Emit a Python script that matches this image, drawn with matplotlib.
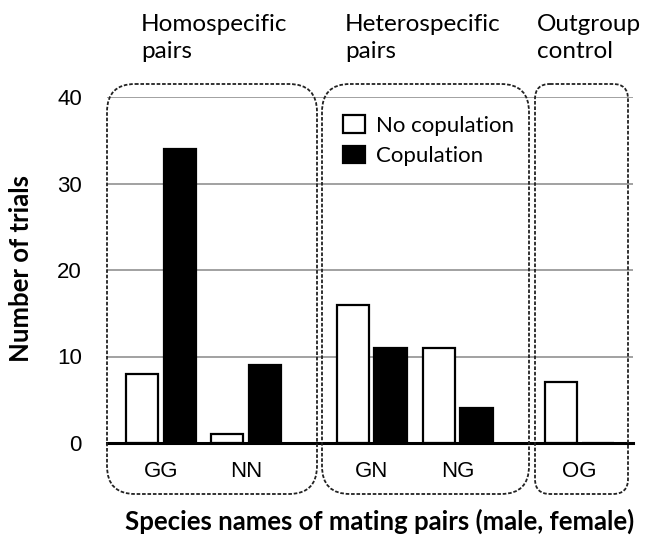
import matplotlib
matplotlib.use("Agg")
import matplotlib.pyplot as plt
from matplotlib.patches import FancyBboxPatch
import numpy as np

# ---- data ----
categories = ["GG", "NN", "GN", "NG", "OG"]
no_copulation = [8, 1, 16, 11, 7]
copulation = [34, 9, 11, 4, 0]
series_names = ["No copulation", "Copulation"]
group_titles = ["Homospecific\npairs", "Heterospecific\npairs", "Outgroup\ncontrol"]
yticks = [0, 10, 20, 30, 40]

# ---- layout ----
positions = np.array([0.0, 1.0, 2.48, 3.49, 4.92])
bw = 0.38
off = 0.22

fig = plt.figure(figsize=(6.49, 5.41), dpi=100)
ax = fig.add_axes([107/649, 1-443/541, (633-107)/649, (443-97)/541])

ax.bar(positions - off, no_copulation, bw, color="white", edgecolor="black",
       linewidth=1.6, label=series_names[0], zorder=3)
ax.bar(positions + off, copulation, bw, color="black", edgecolor="black",
       linewidth=1.6, label=series_names[1], zorder=3)

ax.set_xlim(-0.635, 5.55)
ax.set_ylim(0, 40)
ax.set_yticks(yticks)
ax.set_yticklabels([str(t) for t in yticks], family="Liberation Sans", fontsize=16)
ax.set_xticks(positions)
ax.set_xticklabels(categories, family="Liberation Sans", fontsize=16)
ax.tick_params(axis="y", length=0, pad=18)
ax.tick_params(axis="x", length=0, pad=13)
ax.yaxis.grid(True, color="#9a9a9a", linewidth=1.3, zorder=0)
ax.set_axisbelow(True)
for s in ["top", "right", "left"]:
    ax.spines[s].set_visible(False)
ax.spines["bottom"].set_linewidth(2.2)
ax.spines["bottom"].set_zorder(4)

ax.legend(loc="upper left", bbox_to_anchor=((343-107)/526, 1-(115-97)/346),
          frameon=False, prop={"family": "Lato", "size": 16},
          handlelength=1.0, handleheight=0.85, handletextpad=0.5,
          labelspacing=0.45, borderaxespad=0, borderpad=0)

# axis labels
fig.text(21/649, 1-268/541, "Number of trials", rotation=90, ha="center",
         va="center", family="Lato", fontweight="bold", fontsize=18.5)
fig.text(380/649, 1-521/541, "Species names of mating pairs (male, female)",
         ha="center", va="center", family="Lato", fontweight="bold", fontsize=18.5)

# overlay in pixel coordinates for group boxes and titles
ov = fig.add_axes([0, 0, 1, 1], zorder=5)
ov.set_xlim(0, 649)
ov.set_ylim(541, 0)
ov.axis("off")
ov.patch.set_alpha(0)

boxes = [(107, 317, 28), (322, 529, 28), (535, 628, 15)]
for x0, x1, r in boxes:
    p = FancyBboxPatch((x0, 84), x1 - x0, 494 - 84,
                       boxstyle=f"round,pad=0,rounding_size={r}",
                       fill=False, edgecolor="#222222", linewidth=1.3,
                       linestyle=(0, (2.0, 1.0)))
    ov.add_patch(p)

title_x = [141, 345, 537]
for tx, t in zip(title_x, group_titles):
    ov.text(tx, 38, t, ha="left", va="center", family="Lato", fontsize=17.5,
            linespacing=1.35)

fig.savefig("out.png", dpi=100)
